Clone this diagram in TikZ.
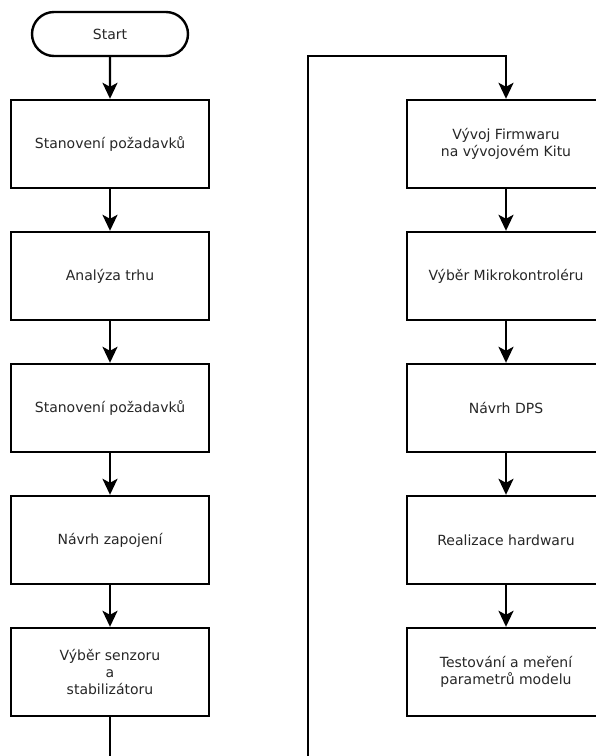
\documentclass[tikz,border=0pt]{standalone}
\usepackage{fontspec}
\setmainfont{DejaVu Sans}
\usetikzlibrary{arrows.meta,shapes.misc}
\begin{document}
\begin{tikzpicture}[x=1pt,y=-1pt,
  txt/.style={font=\fontsize{14}{17}\selectfont, text=black!85},
  box/.style={txt, draw, line width=2.4pt, minimum width=198pt, minimum height=88pt, align=center, inner sep=0pt},
  term/.style={txt, draw, line width=2.4pt, rounded rectangle, minimum width=156pt, minimum height=44pt, inner sep=0pt},
  arr/.style={line width=2.4pt, -{Stealth[length=16pt,width=15pt,inset=4pt]}},
  ln/.style={line width=2.4pt}]
\useasboundingbox (0,0) rectangle (596,756);
% left column
\node[term] (start) at (110,34) {Start};
\node[box] (l1) at (110,144) {Stanovení požadavků};
\node[box] (l2) at (110,276) {Analýza trhu};
\node[box] (l3) at (110,408) {Stanovení požadavků};
\node[box] (l4) at (110,540) {Návrh zapojení};
\node[box] (l5) at (110,672) {Výběr senzoru\\a\\stabilizátoru};
% right column
\node[box] (r1) at (506,144) {Vývoj Firmwaru\\na vývojovém Kitu};
\node[box] (r2) at (506,276) {Výběr Mikrokontroléru};
\node[box] (r3) at (506,408) {Návrh DPS};
\node[box] (r4) at (506,540) {Realizace hardwaru};
\node[box] (r5) at (506,672) {Testování a meření\\parametrů modelu};
% connectors
\draw[arr] (start) -- (l1);
\draw[arr] (l1) -- (l2);
\draw[arr] (l2) -- (l3);
\draw[arr] (l3) -- (l4);
\draw[arr] (l4) -- (l5);
\coordinate (lend) at (110,757);
\draw[ln] (l5) -- (lend);
\coordinate (rbot) at (308,757);
\coordinate (rtop) at (308,56);
\draw[arr] (rbot) -- (rtop) -- (r1.north |- rtop) -- (r1);
\draw[arr] (r1) -- (r2);
\draw[arr] (r2) -- (r3);
\draw[arr] (r3) -- (r4);
\draw[arr] (r4) -- (r5);
\end{tikzpicture}
\end{document}
